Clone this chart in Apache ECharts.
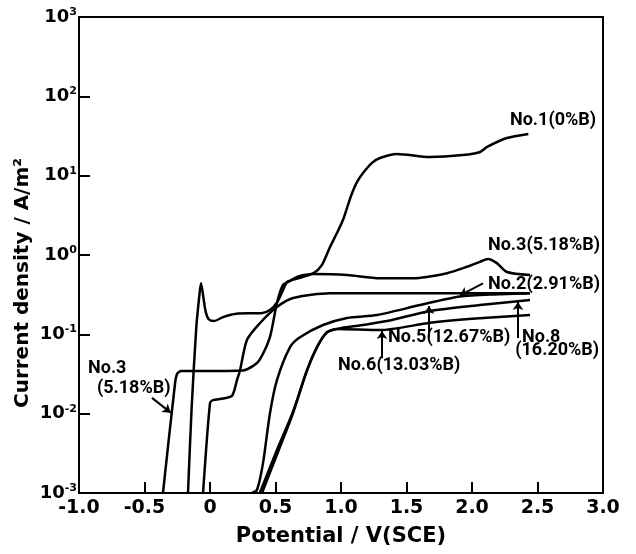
<!DOCTYPE html>
<html>
<head>
<meta charset="utf-8">
<script src="https://cdn.jsdelivr.net/npm/echarts@6/dist/echarts.min.js"></script>
<style>
  html, body { margin: 0; padding: 0; background: #fff; }
  #chart { width: 636px; height: 554px; }
</style>
</head>
<body>
<div id="chart"></div>
<script>
// anodic polarization curves
const xTickLabels = ['-1.0', '-0.5', '0', '0.5', '1.0', '1.5', '2.0', '2.5', '3.0']
const yTickExponents = ['-3', '-2', '-1', '0', '1', '2', '3']

const no1Potential = [-0.168, -0.14, -0.105, -0.082, -0.069, -0.055, -0.035, -0.01, 0.03, 0.10, 0.20, 0.40, 0.46, 0.51, 0.557, 0.59, 0.66, 0.79, 0.855, 0.916, 0.969, 1.015, 1.053, 1.084, 1.122, 1.168, 1.237, 1.298, 1.427, 1.679, 1.931, 2.061, 2.115, 2.267, 2.43]
const no1Current = [0.001, 0.012, 0.12, 0.30, 0.44, 0.33, 0.20, 0.155, 0.147, 0.165, 0.182, 0.186, 0.204, 0.25, 0.36, 0.46, 0.50, 0.59, 0.75, 1.26, 1.89, 2.76, 4.26, 6.0, 8.3, 10.8, 14.5, 16.7, 18.8, 17.2, 18.2, 19.9, 23, 29.8, 33.5]

const no2Potential = [-0.053, 0.0, 0.023, 0.10, 0.17, 0.206, 0.229, 0.282, 0.382, 0.511, 0.634, 0.916, 1.5, 2.0, 2.443]
const no2Current = [0.001, 0.0136, 0.0148, 0.0155, 0.017, 0.0265, 0.035, 0.085, 0.139, 0.221, 0.287, 0.33, 0.33, 0.33, 0.33]

const no3Potential = [-0.359, -0.267, -0.25, -0.22, 0.0, 0.25, 0.33, 0.38, 0.458, 0.511, 0.557, 0.611, 0.664, 0.786, 1.046, 1.298, 1.55, 1.81, 1.962, 2.06, 2.122, 2.19, 2.267, 2.443]
const no3Current = [0.001, 0.024, 0.032, 0.0345, 0.0345, 0.035, 0.040, 0.048, 0.093, 0.248, 0.42, 0.47, 0.53, 0.575, 0.56, 0.51, 0.51, 0.59, 0.71, 0.82, 0.89, 0.79, 0.61, 0.56]

const no5Potential = [0.32, 0.359, 0.405, 0.458, 0.511, 0.611, 0.687, 0.863, 1.046, 1.275, 1.603, 1.908, 2.2, 2.443]
const no5Current = [0.001, 0.0011, 0.0024, 0.0102, 0.0265, 0.069, 0.092, 0.131, 0.161, 0.175, 0.234, 0.30, 0.32, 0.33]

const no6Potential = [0.397, 0.534, 0.634, 0.740, 0.817, 0.893, 0.969, 1.298, 1.68, 2.0, 2.443]
const no6Current = [0.001, 0.0038, 0.0102, 0.035, 0.069, 0.107, 0.117, 0.113, 0.14, 0.157, 0.175]

const no8Potential = [0.38, 0.52, 0.63, 0.74, 0.817, 0.893, 0.98, 1.15, 1.351, 1.68, 2.06, 2.443]
const no8Current = [0.001, 0.0038, 0.0102, 0.035, 0.069, 0.105, 0.118, 0.13, 0.147, 0.197, 0.234, 0.271]

// text labels and pointer arrows, in data coordinates
const labelTexts = [
  { text: 'No.1(0%B)', at: [2.29, 49] },
  { text: 'No.3(5.18%B)', at: [2.122, 1.3] },
  { text: 'No.2(2.91%B)', at: [2.122, 0.42] },
  { text: 'No.5(12.67%B)', at: [1.359, 0.09] },
  { text: 'No.8', at: [2.382, 0.092] },
  { text: '(16.20%B)', at: [2.33, 0.062] },
  { text: 'No.6(13.03%B)', at: [0.977, 0.04] },
  { text: 'No.3', at: [-0.931, 0.0376] },
  { text: '(5.18%B)', at: [-0.863, 0.021] }
]
const arrows = [
  [[2.084, 0.44], [1.908, 0.31]],
  [[1.672, 0.092], [1.672, 0.227]],
  [[2.351, 0.09], [2.351, 0.255]],
  [[1.313, 0.05], [1.313, 0.11]],
  [[-0.443, 0.0158], [-0.30, 0.0103]]
]

const FONT = 'DejaVu Sans'
const NOTE_FONT = 'Roboto'
const zip = (xs, ys) => xs.map((x, i) => [x, ys[i]])

const curves = [
  ['No.1', no1Potential, no1Current],
  ['No.2', no2Potential, no2Current],
  ['No.3', no3Potential, no3Current],
  ['No.5', no5Potential, no5Current],
  ['No.6', no6Potential, no6Current],
  ['No.8', no8Potential, no8Current]
]

const chart = echarts.init(document.getElementById('chart'))

const series = curves.map(([name, xs, ys]) => ({
  name,
  type: 'line',
  data: zip(xs, ys),
  smooth: 0.25,
  showSymbol: false,
  lineStyle: { color: '#000', width: 2.5 },
  z: 3
}))

series.push({
  name: 'arrows',
  type: 'line',
  data: [],
  markLine: {
    silent: true,
    symbol: ['none', 'arrow'],
    symbolSize: 8,
    label: { show: false },
    lineStyle: { color: '#000', width: 2, type: 'solid' },
    data: arrows.map(([a, b]) => [{ coord: a }, { coord: b }])
  }
})

const option = {
  animation: false,
  grid: {
    left: 79,
    right: 33,
    top: 17,
    bottom: 61,
    show: true,
    borderColor: '#000',
    borderWidth: 2
  },
  xAxis: {
    type: 'value',
    min: -1,
    max: 3,
    interval: 0.5,
    name: 'Potential / V(SCE)',
    nameLocation: 'middle',
    nameGap: 33,
    nameTextStyle: { fontFamily: FONT, fontWeight: 'bold', fontSize: 21, color: '#000' },
    axisLine: { onZero: false, lineStyle: { color: '#000', width: 2 } },
    axisTick: { inside: true, length: 11, lineStyle: { color: '#000', width: 2 } },
    splitLine: { show: false },
    axisLabel: {
      fontFamily: FONT,
      fontWeight: 'bold',
      fontSize: 19,
      color: '#000',
      margin: 6,
      formatter: (v) => xTickLabels[Math.round((v + 1) / 0.5)]
    }
  },
  yAxis: {
    type: 'log',
    logBase: 10,
    min: 0.001,
    max: 1000,
    name: 'Current density / A/m\u00b2',
    nameLocation: 'middle',
    nameGap: 46,
    nameMoveOverlap: false,
    nameTextStyle: {
      fontFamily: FONT,
      fontWeight: 'bold',
      fontSize: 20,
      color: '#000',
      padding: [0, 56, 0, 0]
    },
    axisLine: { onZero: false, lineStyle: { color: '#000', width: 2 } },
    axisTick: { inside: true, length: 11, lineStyle: { color: '#000', width: 2 } },
    splitLine: { show: false },
    minorTick: { show: false },
    axisLabel: {
      margin: 2,
      formatter: (v) => {
        const i = Math.round(Math.log10(v)) + 3
        return '{b|10}{s|' + yTickExponents[i] + '}'
      },
      rich: {
        b: { fontFamily: FONT, fontWeight: 'bold', fontSize: 18, color: '#000' },
        s: { fontFamily: FONT, fontWeight: 'bold', fontSize: 11, color: '#000', padding: [0, 0, 10, 0] }
      }
    }
  },
  series
}

chart.setOption(option)

// place label texts through the axes' scales
chart.setOption({
  graphic: labelTexts.map((l) => {
    const p = chart.convertToPixel({ gridIndex: 0 }, l.at)
    return {
      type: 'text',
      x: p[0],
      y: p[1],
      silent: true,
      style: {
        text: l.text,
        fontFamily: NOTE_FONT,
        fontWeight: 'bold',
        fontSize: 18,
        fill: '#000',
        align: 'left',
        verticalAlign: 'middle'
      }
    }
  })
})
</script>
</body>
</html>
